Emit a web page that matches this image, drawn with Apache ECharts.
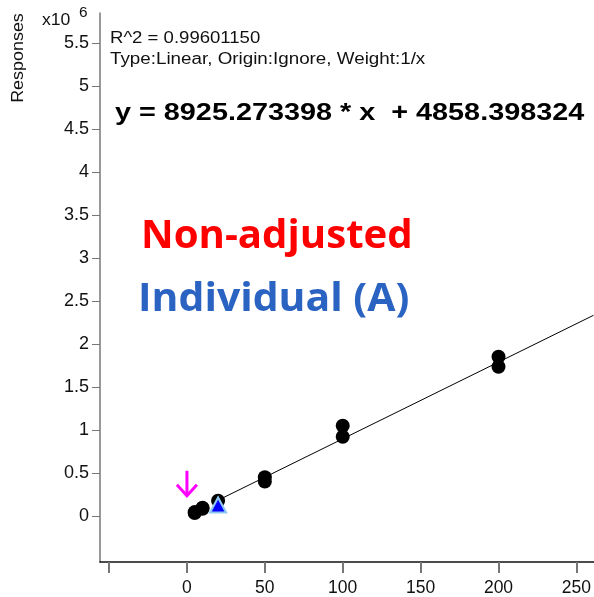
<!DOCTYPE html>
<html>
<head>
<meta charset="utf-8">
<script src="https://cdn.jsdelivr.net/npm/echarts@6/dist/echarts.min.js"></script>
<style>
html,body{margin:0;padding:0;background:#fff;}
#c{width:594px;height:597px;}
</style>
</head>
<body>
<div id="c"></div>
<script>
// Calibration points (concentration, response)
var calPoints = [[5,35000],[5,45000],[10,85000],[10,95000],[20,178000],[50,450000],[50,400000],[100,1050000],[100,922000],[200,1852000],[200,1736000]];
// Individual (A) sample point
var samplePoint = [[20,128000]];
// Fitted calibration line endpoints
var fitLine = [[20,183400],[261,2334000]];
// Tick values
var xTicks = [-50,0,50,100,150,200,250];
var xLabels = [0,50,100,150,200,250];
var yLabels = [0,500000,1000000,1500000,2000000,2500000,3000000,3500000,4000000,4500000,5000000,5500000];
// Arrow tip (annotation)
var arrowTip = [0,235000];

var chart = echarts.init(document.getElementById('c'));
var FONT = '"Liberation Sans", Arial, sans-serif';
function fmtY(v){ var s = v/1e6; return String(s); }

chart.setOption({
  animation:false,
  grid:{left:100,right:0,top:13,bottom:35,containLabel:false},
  xAxis:{
    type:'value', min:-55.8, max:261,
    axisLine:{show:true,onZero:false,lineStyle:{color:'#111',width:1.5}},
    axisTick:{show:true,length:11,customValues:xTicks,lineStyle:{color:'#777',width:2}},
    axisLabel:{customValues:xLabels,fontFamily:FONT,fontSize:17.5,color:'#111',margin:17},
    splitLine:{show:false}
  },
  yAxis:{
    type:'value', min:-535000, max:5849000,
    axisLine:{show:true,onZero:false,lineStyle:{color:'#777',width:1.5}},
    axisTick:{show:true,length:8,customValues:yLabels,lineStyle:{color:'#777',width:1}},
    axisLabel:{customValues:yLabels,formatter:fmtY,fontFamily:FONT,fontSize:18,color:'#111',margin:11},
    splitLine:{show:false}
  },
  series:[
    {type:'line',data:fitLine,symbol:'none',lineStyle:{color:'#000',width:1},z:1},
    {type:'scatter',data:calPoints,symbol:'circle',symbolSize:14,itemStyle:{color:'#000',opacity:1},z:2},
    {type:'scatter',data:samplePoint,symbol:'triangle',symbolSize:[16,15],itemStyle:{color:'#0000ff',borderColor:'#8ec8f0',borderWidth:2,opacity:1},z:3}
  ]
});

var tip = chart.convertToPixel({gridIndex:0}, arrowTip);
var ax = tip[0], ay = tip[1];

chart.setOption({
  graphic:[
    {type:'text',x:19,y:58,rotation:Math.PI/2,scaleX:1.12,style:{text:'Responses',font:'16px '+FONT,fill:'#111',textAlign:'center',textVerticalAlign:'middle'}},
    {type:'text',x:42,y:21,scaleX:1.1,style:{text:'x10',font:'16px '+FONT,fill:'#111',textAlign:'left',textVerticalAlign:'middle'}},
    {type:'text',x:79,y:13,scaleX:1.1,style:{text:'6',font:'14px '+FONT,fill:'#111',textAlign:'left',textVerticalAlign:'middle'}},
    {type:'text',x:110,y:39,scaleX:1.16,style:{text:'R^2 = 0.99601150',font:'16px '+FONT,fill:'#111',textAlign:'left',textVerticalAlign:'middle'}},
    {type:'text',x:110,y:60,scaleX:1.175,style:{text:'Type:Linear, Origin:Ignore, Weight:1/x',font:'16px '+FONT,fill:'#111',textAlign:'left',textVerticalAlign:'middle'}},
    {type:'text',x:115,y:113,scaleX:1.2,style:{text:'y = 8925.273398 * x  + 4858.398324',font:'bold 24px '+FONT,fill:'#000',textAlign:'left',textVerticalAlign:'middle'}},
    {type:'text',x:141,y:237,scaleX:1.03,style:{text:'Non-adjusted',font:'bold 39px "Open Sans", sans-serif',fill:'#ff0000',textAlign:'left',textVerticalAlign:'middle'}},
    {type:'text',x:138,y:300,scaleX:1.05,style:{text:'Individual (A)',font:'bold 39px "Open Sans", sans-serif',fill:'#2b63c2',textAlign:'left',textVerticalAlign:'middle'}},
    {type:'polyline',shape:{points:[[ax,ay-25],[ax,ay]]},style:{stroke:'#ff00ff',lineWidth:3,fill:null}},
    {type:'polyline',shape:{points:[[ax-10,ay-11],[ax,ay],[ax+10,ay-11]]},style:{stroke:'#ff00ff',lineWidth:3,fill:null}}
  ]
});
</script>
</body>
</html>
